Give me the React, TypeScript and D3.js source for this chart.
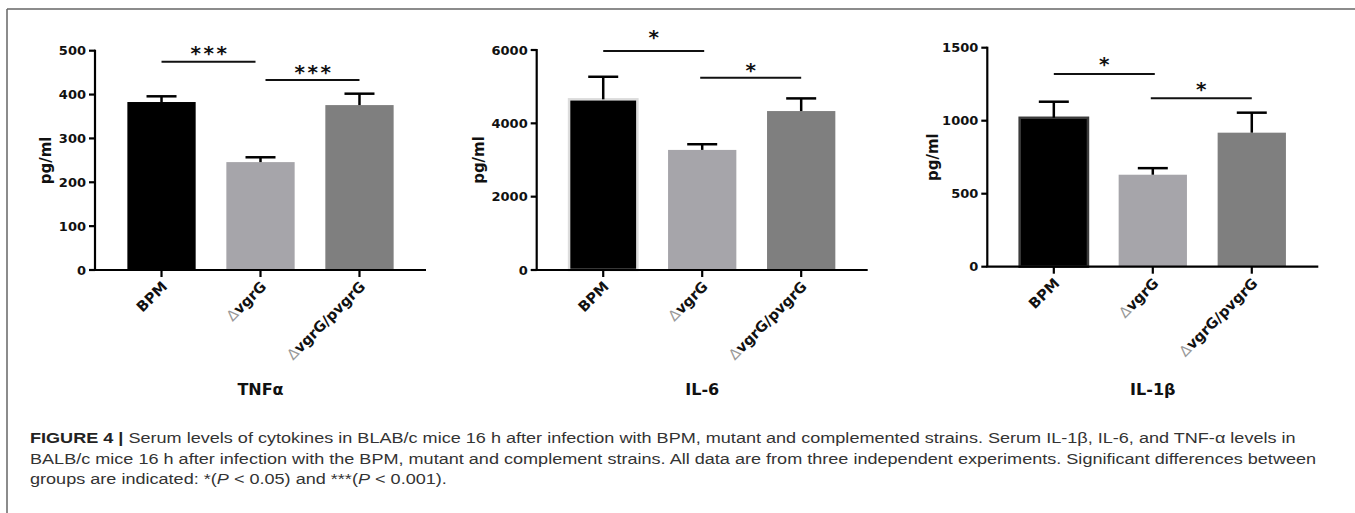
import React from "react";
import { scaleBand, scaleLinear } from "d3";

const width = 1355;
const height = 513;

// groups shared by the three panels
const groups = ["BPM", "ΔvgrG", "ΔvgrG/pvgrG"];
const barColors = ["#000000", "#a6a5aa", "#7f7f7f"];

// TNFα
const tnfMean = [383, 246, 376];
const tnfSem = [13, 11, 26];
const tnfTicks = [0, 100, 200, 300, 400, 500];
const tnfSig = ["***", "***"];
const tnfSigLevel = [475, 433];

// IL-6
const il6Mean = [4655, 3275, 4335];
const il6Sem = [615, 155, 345];
const il6Ticks = [0, 2000, 4000, 6000];
const il6Sig = ["*", "*"];
const il6SigLevel = [5970, 5240];

// IL-1β
const il1bMean = [1020, 630, 918];
const il1bSem = [110, 45, 137];
const il1bTicks = [0, 500, 1000, 1500];
const il1bSig = ["*", "*"];
const il1bSigLevel = [1320, 1153];

const panels = [
  {
    title: "TNFα", mean: tnfMean, sem: tnfSem, ticks: tnfTicks, sig: tnfSig, sigLevel: tnfSigLevel,
    axisX: 95, y0: 270, yTop: 50.7, yLabelDx: -49, starGap: [13, 13], inset: 5, barStroke: "none",
  },
  {
    title: "IL-6", mean: il6Mean, sem: il6Sem, ticks: il6Ticks, sig: il6Sig, sigLevel: il6SigLevel,
    axisX: 536.7, y0: 270, yTop: 50, yLabelDx: -58, starGap: [19, 12], inset: -2, barStroke: "#dcdcdc",
  },
  {
    title: "IL-1β", mean: il1bMean, sem: il1bSem, ticks: il1bTicks, sig: il1bSig, sigLevel: il1bSigLevel,
    axisX: 987.3, y0: 266.7, yTop: 47.7, yLabelDx: -55, starGap: [14, 14], inset: -2, barStroke: "#3c3c3c",
  },
];

const boldFont = "'DejaVu Sans', sans-serif";

const Panel = ({ p }) => {
  const x = scaleBand()
    .domain(groups)
    .range([p.axisX, p.axisX + 331])
    .paddingInner(0.31)
    .paddingOuter(0.327);
  const y = scaleLinear()
    .domain([0, p.ticks[p.ticks.length - 1]])
    .range([p.y0, p.yTop]);
  const cx = (g) => x(g) + x.bandwidth() / 2;

  const pairs = [
    [groups[0], groups[1]],
    [groups[1], groups[2]],
  ];

  return (
    <g>
      {/* bars */}
      {groups.map((g, i) => (
        <rect
          key={g}
          x={x(g)}
          y={y(p.mean[i])}
          width={x.bandwidth()}
          height={p.y0 - y(p.mean[i])}
          fill={barColors[i]}
          stroke={i === 0 ? p.barStroke : "none"}
          strokeWidth={2.5}
        />
      ))}
      {/* error bars, upper only */}
      {groups.map((g, i) => (
        <g key={g} stroke="#000" strokeWidth={2.5}>
          <line x1={cx(g)} x2={cx(g)} y1={y(p.mean[i])} y2={y(p.mean[i] + p.sem[i])} />
          <line x1={cx(g) - 15} x2={cx(g) + 15} y1={y(p.mean[i] + p.sem[i])} y2={y(p.mean[i] + p.sem[i])} />
        </g>
      ))}
      {/* axes */}
      <line x1={p.axisX} x2={p.axisX} y1={p.y0} y2={p.yTop - 1} stroke="#000" strokeWidth={2.2} />
      <line x1={p.axisX - 1} x2={p.axisX + 331} y1={p.y0} y2={p.y0} stroke="#000" strokeWidth={2.2} />
      {p.ticks.map((t) => (
        <g key={t}>
          <line x1={p.axisX - 6} x2={p.axisX} y1={y(t)} y2={y(t)} stroke="#000" strokeWidth={2.2} />
          <text
            x={p.axisX - 9}
            y={y(t)}
            dy="0.36em"
            textAnchor="end"
            fontFamily={boldFont}
            fontWeight="bold"
            fontSize={13}
            fill="#111"
          >
            {t}
          </text>
        </g>
      ))}
      {groups.map((g) => (
        <g key={g}>
          <line x1={cx(g)} x2={cx(g)} y1={p.y0} y2={p.y0 + 7} stroke="#000" strokeWidth={2.2} />
          <text
            transform={`translate(${cx(g) + 3},${p.y0 + 14}) rotate(-45)`}
            textAnchor="end"
            dy="0.35em"
            fontFamily={boldFont}
            fontWeight="bold"
            fontSize={14.5}
            fill="#111"
          >
            {g.startsWith("Δ") ? (
              <>
                <tspan fontWeight="normal" fill="#999">Δ</tspan>
                {g.slice(1)}
              </>
            ) : (
              g
            )}
          </text>
        </g>
      ))}
      <text
        transform={`translate(${p.axisX + p.yLabelDx},${(p.y0 + p.yTop) / 2}) rotate(-90)`}
        textAnchor="middle"
        dy="0.35em"
        fontFamily={boldFont}
        fontWeight="bold"
        fontSize={15}
        fill="#111"
      >
        pg/ml
      </text>
      {/* significance */}
      {pairs.map(([a, b], k) => {
        const ly = y(p.sigLevel[k]);
        const x1 = cx(a) + (k === 0 ? 0 : p.inset);
        const x2 = cx(b) - (k === 0 ? p.inset : 0);
        return (
          <g key={k}>
            <line x1={x1} x2={x2} y1={ly} y2={ly} stroke="#111" strokeWidth={2} />
            <text
              x={(x1 + x2) / 2 + (p.sig[k].length > 1 ? 1.5 : 0)}
              y={ly - p.starGap[k] + 11.5}
              textAnchor="middle"
              fontFamily={boldFont}
              fontWeight="bold"
              fontSize={20}
              letterSpacing={p.sig[k].length > 1 ? 2.5 : 0}
              fill="#111"
            >
              {p.sig[k]}
            </text>
          </g>
        );
      })}
      <text
        x={cx(groups[1])}
        y={395}
        textAnchor="middle"
        fontFamily={boldFont}
        fontWeight="bold"
        fontSize={16}
        fill="#111"
      >
        {p.title}
      </text>
    </g>
  );
};

const captionFont = "'Liberation Sans', Arial, sans-serif";

export default function App() {
  return (
    <svg
      width={width}
      height={height}
      style={{ position: "absolute", left: 0, top: 0, background: "#fff" }}
    >
      <line x1={7} x2={width} y1={9} y2={9} stroke="#666" strokeWidth={1.5} />
      <line x1={7} x2={7} y1={9} y2={height} stroke="#666" strokeWidth={1.5} />
      {panels.map((p) => (
        <Panel key={p.title} p={p} />
      ))}
      {/* the source caption is set wide, so stretch it horizontally */}
      <g
        transform="translate(30,0) scale(1.247,1) translate(-30,0)"
        fontFamily={captionFont}
        fontSize={14.5}
        fill="#333"
      >
        <text x={30} y={443.5}>
          <tspan fontWeight="bold" fill="#222">FIGURE 4 | </tspan>
          Serum levels of cytokines in BLAB/c mice 16 h after infection with BPM, mutant and complemented strains. Serum IL-1β, IL-6, and TNF-α levels in
        </text>
        <text x={30} y={464}>
          BALB/c mice 16 h after infection with the BPM, mutant and complement strains. All data are from three independent experiments. Significant differences between
        </text>
        <text x={30} y={484.5}>
          groups are indicated: *(<tspan fontStyle="italic">P</tspan> &lt; 0.05) and ***(<tspan fontStyle="italic">P</tspan> &lt; 0.001).
        </text>
      </g>
    </svg>
  );
}
